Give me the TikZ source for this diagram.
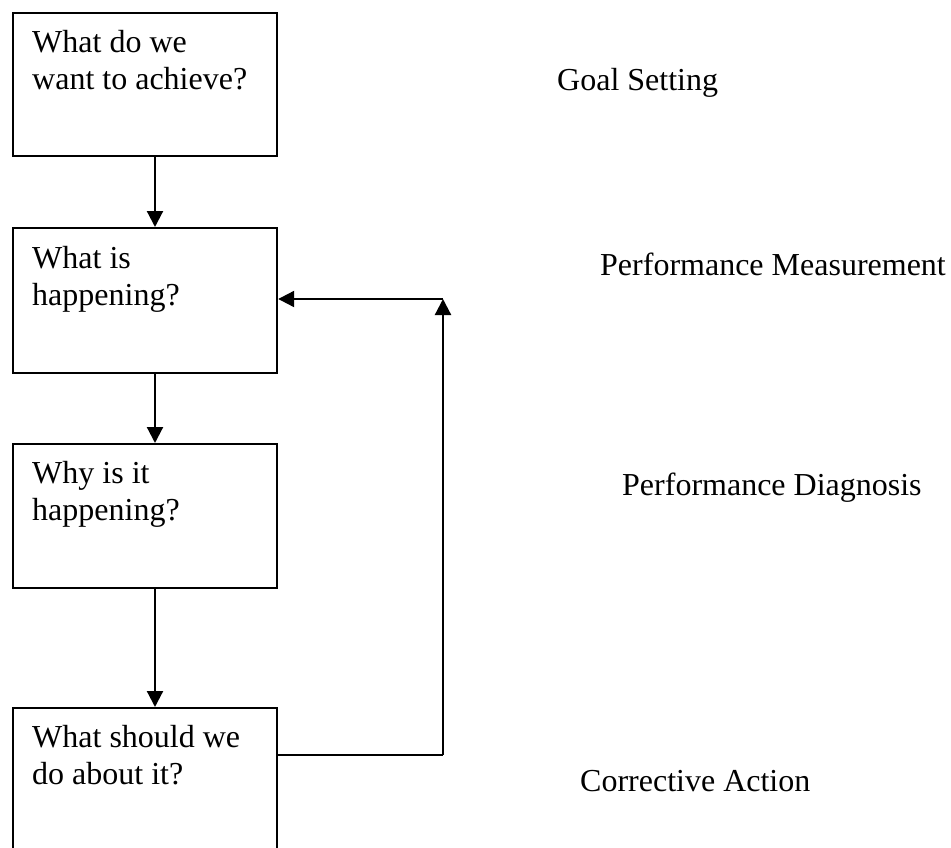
\documentclass[tikz,border=0pt]{standalone}
\usepackage{fontspec}
\setmainfont{Liberation Serif}
\usetikzlibrary{arrows.meta}
\begin{document}
\begin{tikzpicture}[x=1pt,y=-1pt,
  box/.style={draw, line width=2.2pt, anchor=north west, inner sep=0pt},
  txt/.style={anchor=base west, align=left, inner sep=0pt, font=\fontsize{32}{37}\selectfont},
  arr/.style={line width=2.2pt, -{Triangle[length=16pt,width=16pt]}},
  ln/.style={line width=2.2pt}
]
\useasboundingbox (0,0) rectangle (951,848);
\clip (0,0) rectangle (951,848);
\node[box, minimum width=264pt, minimum height=143pt] (b1) at (12,12) {};
\node[box, minimum width=264pt, minimum height=145pt] (b2) at (12,227) {};
\node[box, minimum width=264pt, minimum height=144pt] (b3) at (12,443) {};
\node[box, minimum width=264pt, minimum height=170pt] (b4) at (12,707) {};

\node[txt] (t1) at (32,90) {What do we\\want to achieve?};
\node[txt] (t2) at (32,305) {What is\\happening?};
\node[txt] (t3) at (32,520) {Why is it\\happening?};
\node[txt] (t4) at (32,784) {What should we\\do about it?};

\node[txt] (l1) at (557,91) {Goal Setting};
\node[txt] (l2) at (600,275) {Performance Measurement};
\node[txt] (l3) at (622,495) {Performance Diagnosis};
\node[txt] (l4) at (580,791) {Corrective Action};

\coordinate (ax) at (155,0);
\draw[arr] (b1.south -| ax) -- (b2.north -| ax);
\draw[arr] (b2.south -| ax) -- (b3.north -| ax);
\draw[arr] (b3.south -| ax) -- (b4.north -| ax);

\coordinate (c1) at (443,755);
\coordinate (c2) at (443,299);
\draw[ln] (b4.east |- c1) -- (c1);
\draw[arr] (c1) -- (c2);
\draw[arr] (c2) -- (b2.east |- c2);
\end{tikzpicture}
\end{document}
